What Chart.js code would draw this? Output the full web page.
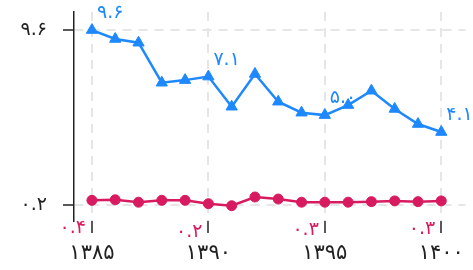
<!DOCTYPE html>
<html>
<head>
<meta charset="utf-8">
<script src="https://cdn.jsdelivr.net/npm/chart.js@4"></script>
<style>
  html, body { margin: 0; padding: 0; background: #fff; }
  #wrap { width: 473px; height: 270px; }
</style>
</head>
<body>
<div id="wrap"><canvas id="chart" width="473" height="270"></canvas></div>
<script>
// data
const years = [1385, 1386, 1387, 1388, 1389, 1390, 1391, 1392, 1393, 1394, 1395, 1396, 1397, 1398, 1399, 1400];
const blueValues = [9.6, 9.12, 8.92, 6.77, 6.91, 7.1, 5.48, 7.24, 5.75, 5.16, 5.03, 5.57, 6.34, 5.36, 4.55, 4.12];
const redValues = [0.45, 0.48, 0.35, 0.45, 0.45, 0.27, 0.16, 0.63, 0.52, 0.35, 0.35, 0.35, 0.38, 0.42, 0.38, 0.42];

const labelIndex = [0, 5, 10, 15];
const blueLabels = ["۹.۶", "۷.۱", "۵.۰", "۴.۱"];
const redLabels = ["۰.۴", "۰.۲", "۰.۳", "۰.۳"];

const xTickValues = [1385, 1390, 1395, 1400];
const xTickLabels = ["۱۳۸۵", "۱۳۹۰", "۱۳۹۵", "۱۴۰۰"];
const yTickValues = [0.2, 9.6];
const yTickLabels = ["۰.۲", "۹.۶"];

const BLUE = "#1e88ff";
const RED = "#d81b60";
const FONT = "'DejaVu Sans', sans-serif";

const pointLabels = {
  id: "pointLabels",
  beforeDatasetsDraw(chart) {
    const ctx = chart.ctx;
    ctx.save();
    ctx.font = "19px " + FONT;
    ctx.textBaseline = "middle";
    const blueMeta = chart.getDatasetMeta(0);
    const redMeta = chart.getDatasetMeta(1);
    labelIndex.forEach((idx, i) => {
      const b = blueMeta.data[idx];
      ctx.fillStyle = BLUE;
      ctx.textAlign = "left";
      ctx.fillText(blueLabels[i], b.x + 5, b.y - 17);
      const r = redMeta.data[idx];
      ctx.fillStyle = RED;
      ctx.textAlign = "right";
      ctx.fillText(redLabels[i], r.x - 6, r.y + 28);
    });
    ctx.restore();
  }
};

new Chart(document.getElementById("chart"), {
  type: "line",
  data: {
    datasets: [{
      data: years.map((y, i) => ({ x: y, y: blueValues[i] })),
      borderColor: BLUE,
      backgroundColor: BLUE,
      borderWidth: 2.5,
      pointStyle: "triangle",
      pointRadius: 6.5,
      pointBorderWidth: 1,
      tension: 0,
    }, {
      data: years.map((y, i) => ({ x: y, y: redValues[i] })),
      borderColor: RED,
      backgroundColor: RED,
      borderWidth: 2.5,
      pointStyle: "circle",
      pointRadius: 5,
      pointBorderWidth: 1,
      tension: 0,
    }],
  },
  options: {
    responsive: false,
    animation: false,
    layout: { padding: { top: 12, right: 0, left: 0, bottom: 0 } },
    plugins: { legend: { display: false }, tooltip: { enabled: false } },
    scales: {
      x: {
        type: "linear",
        min: 1384.23,
        max: 1401.04,
        afterBuildTicks: (s) => { s.ticks = xTickValues.map(v => ({ value: v })); },
        afterFit: (s) => { s.height = 49; s.paddingLeft = 0; s.paddingRight = 0; },
        ticks: {
          callback: (v, i) => xTickLabels[i],
          color: "#222",
          font: { family: FONT, size: 21 },
          padding: 8,
          maxRotation: 0,
        },
        grid: {
          color: "#e6e6e6",
          lineWidth: 2,
          tickColor: "#222",
          tickLength: 12,
          tickWidth: 1.5,
        },
        border: { display: false, dash: [9, 7] },
      },
      y: {
        min: -0.66,
        max: 10.57,
        afterBuildTicks: (s) => { s.ticks = yTickValues.map(v => ({ value: v })); },
        afterFit: (s) => { s.width = 74; s.paddingTop = 0; s.paddingBottom = 0; },
        ticks: {
          callback: (v, i) => yTickLabels[i],
          color: "#222",
          font: { family: FONT, size: 19 },
          padding: 16,
        },
        grid: {
          color: "#e6e6e6",
          lineWidth: 2,
          tickColor: "#222",
          tickLength: 11,
          tickWidth: 1.5,
        },
        border: { display: true, color: "#222", width: 1.5, dash: [9, 7] },
      },
    },
  },
  plugins: [pointLabels],
});
</script>
</body>
</html>
